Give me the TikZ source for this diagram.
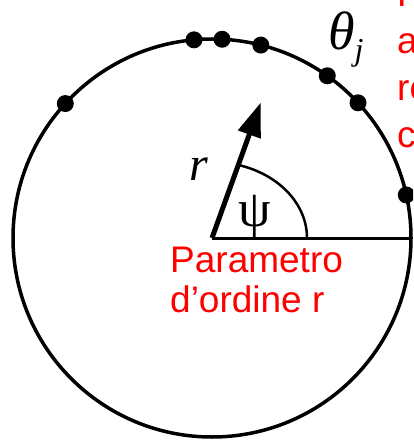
\documentclass[tikz,border=0pt]{standalone}
\usepackage{fontspec}
\newfontfamily\labelfont{Liberation Sans}
\newfontfamily\symfont{Liberation Serif}
\usetikzlibrary{arrows.meta,calc}

\begin{document}
\begin{tikzpicture}[
  x=1pt, y=1pt,
  ring/.style    = {draw, line width=3.5pt},
  osc/.style     = {circle, fill, inner sep=0pt, minimum size=17pt},
  vec/.style     = {-{Triangle[length=34pt,width=23pt]}, line width=5pt},
  axis/.style    = {line width=3pt},
  angarc/.style  = {line width=2.5pt},
  sym/.style     = {inner sep=0pt, font=\symfont\fontsize{48}{48}\selectfont},
  note/.style    = {inner sep=0pt, text=red, align=left,
                    font=\labelfont\fontsize{37}{40}\selectfont},
]
\useasboundingbox (0,0) rectangle (413,-443);
\clip (0,0) rectangle (413,-443);
\coordinate (O) at (212,-238);
\draw[ring] (O) circle[radius=199];
% oscillators on the ring
\foreach \ang [count=\i] in {137.5,95.2,87.1,75.8,54.6,42.8,12.5}
  \node[osc] (d\i) at ($(O)+(\ang:199)$) {};
\coordinate (E) at ($(O)+(199,0)$);
\coordinate (tip) at ($(O)+(70.2:144)$);
\draw[axis] (O) -- (E);
\draw[angarc] ($(O)+(95,0)$) arc[start angle=0, end angle=73.9, x radius=95, y radius=76];
\draw[vec] (O) -- (tip);
\node[sym, anchor=base] (rlab)  at (199,-181) {\itshape r};
\node[sym, anchor=base] (psi)   at (255,-226) {\fontsize{52}{52}\selectfont ψ};
\node[sym, anchor=base west] (theta) at (328,-50)
  {\fontsize{54}{54}\selectfont\itshape θ\raisebox{-11pt}{\fontsize{32}{32}\selectfont j}};
\node[note, anchor=north west] (ordpar) at (170,-246.5) {Parametro\\d’ordine r};
\node[note, anchor=north west, font=\labelfont\fontsize{37}{47}\selectfont]
  (fasi) at (397,20.5) {Fasi\\angolari\\relative\\centrate};
\end{tikzpicture}
\end{document}
